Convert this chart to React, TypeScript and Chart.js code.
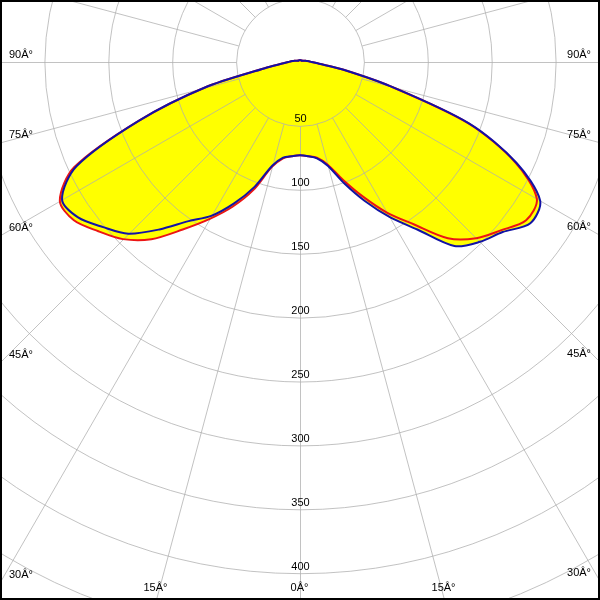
import React, { useEffect, useRef } from "react";
import { Chart, registerables } from "chart.js";

Chart.register(...registerables);

// Gamma angles (degrees from nadir) of each half-plane sample
const gammaDeg = [
  0, 5, 10, 15, 20, 25, 30, 35, 40, 45, 50, 55, 60, 65, 70, 75, 80, 85, 90,
  95, 100, 105, 110, 115, 120, 125, 130, 135, 140, 145, 150, 155, 160, 165, 170, 175, 180,
];

// Luminous intensity (cd/klm), C90-C270 plane (blue)
const blueLeft = [
  73, 74, 76, 84, 104, 122, 139, 152, 171, 190, 201, 212, 215, 193, 134, 77, 28, 14, 9,
  7, 5, 4, 3, 2.5, 2, 2, 1.5, 1.5, 1.5, 1.5, 1.5, 1.5, 1.5, 1.5, 1.5, 1.5, 1.5,
];
const blueRight = [
  73, 74, 76.5, 84, 101, 120, 140, 160, 188, 199, 207, 220, 217, 187, 141, 73, 34, 15, 9,
  7, 5, 4, 3, 2.5, 2, 2, 1.5, 1.5, 1.5, 1.5, 1.5, 1.5, 1.5, 1.5, 1.5, 1.5, 1.5,
];

// Luminous intensity (cd/klm), C0-C180 plane (red)
const redLeft = [
  73, 74, 76.5, 85, 106.5, 125, 142, 160, 181, 196, 206, 216, 217, 195, 134, 77, 28, 14, 9,
  7, 5, 4, 3, 2.5, 2, 2, 1.5, 1.5, 1.5, 1.5, 1.5, 1.5, 1.5, 1.5, 1.5, 1.5, 1.5,
];
const redRight = [
  73, 74, 76, 83, 98, 116, 136, 155, 180, 195, 205, 216, 214, 186, 140, 73, 34, 15, 9,
  7, 5, 4, 3, 2.5, 2, 2, 1.5, 1.5, 1.5, 1.5, 1.5, 1.5, 1.5, 1.5, 1.5, 1.5, 1.5,
];

// Angle labels shown around the frame
const angleLabelDeg = [0, 15, 30, 45, 60, 75, 90];
const degSuffix = "\u00C2\u00B0"; // as printed in the original: "Â°"

const SCALE_MAX = 500;
const STEP = 50;
const SPOKE_STEP = 15;

const BLUE = "#1212a6";
const RED = "#ec1414";
const YELLOW = "#ffff00";
const GRID = "rgba(174,174,174,0.75)";
const FONT = "11px 'Liberation Sans', Arial, sans-serif";

// layout
const CANVAS_SIZE = 1278;
const VIEW = 600;
const CANVAS_LEFT = -339;
const CANVAS_TOP = -577;

// full loop of angles: left half (0..180) then right half (185..355)
const thetaDeg = [
  ...gammaDeg,
  ...gammaDeg.slice(1, -1).reverse().map((g) => 360 - g),
];

function toLoop(left: number[], right: number[]) {
  return thetaDeg.map((t, i) => (t <= 180 ? left[i] : right[thetaDeg.length - i]));
}

const polarGrid = {
  id: "polarGrid",
  afterDatasetDraw(chart: any, args: any) {
    if (args.index !== 2) return;
    const scale = chart.scales.r;
    const ctx = chart.ctx as CanvasRenderingContext2D;
    const xc = scale.xCenter + 0.5;
    const yc = scale.yCenter + 0.5;
    ctx.save();
    ctx.strokeStyle = GRID;
    ctx.lineWidth = 1;
    const rings = scale.ticks.filter((t: any) => t.value > 0);
    for (const t of rings) {
      const r = scale.getDistanceFromCenterForValue(t.value);
      ctx.beginPath();
      ctx.arc(xc, yc, r, 0, Math.PI * 2);
      ctx.stroke();
    }
    const innerV = rings[0].value;
    thetaDeg.forEach((deg, i) => {
      if (deg % SPOKE_STEP !== 0) return;
      const a = scale.getPointPositionForValue(i, innerV);
      const b = scale.getPointPositionForValue(i, scale.max);
      ctx.beginPath();
      ctx.moveTo(a.x + 0.5, a.y + 0.5);
      ctx.lineTo(b.x + 0.5, b.y + 0.5);
      ctx.stroke();
    });
    ctx.restore();
  },
  afterDraw(chart: any) {
    const scale = chart.scales.r;
    const ctx = chart.ctx as CanvasRenderingContext2D;
    const xc = scale.xCenter + 0.5;
    const yc = scale.yCenter + 0.5;
    ctx.save();
    ctx.fillStyle = "#000";
    ctx.font = FONT;
    ctx.textAlign = "center";
    ctx.textBaseline = "alphabetic";
    for (const t of scale.ticks) {
      if (t.value <= 0) continue;
      const p = scale.getPointPositionForValue(0, t.value);
      ctx.fillText(String(t.label), p.x + 0.5, p.y - 3.5);
    }
    // frame labels
    const vLeft = -CANVAS_LEFT;
    const vTop = -CANVAS_TOP;
    const vRight = vLeft + VIEW;
    const vBottom = vTop + VIEW;
    ctx.textBaseline = "middle";
    const drawFor = (idx: number, deg: number) => {
      const p = scale.getPointPositionForValue(idx, 100);
      const dx = p.x + 0.5 - xc;
      const dy = p.y + 0.5 - yc;
      const tSide = dx < 0 ? (vLeft - xc) / dx : dx > 0 ? (vRight - xc) / dx : Infinity;
      const tBottom = dy > 0 ? (vBottom - yc) / dy : Infinity;
      const text = `${deg}${degSuffix}`;
      if (tSide < tBottom) {
        const y = yc + tSide * dy - 8;
        if (dx < 0) {
          ctx.textAlign = "left";
          ctx.fillText(text, vLeft + 9, y);
        } else {
          ctx.textAlign = "right";
          ctx.fillText(text, vRight - 9, y);
        }
      } else {
        ctx.textAlign = "center";
        ctx.fillText(text, xc + tBottom * dx - 1, vBottom - 12);
      }
    };
    for (const deg of angleLabelDeg) {
      const li = thetaDeg.indexOf(deg);
      drawFor(li, deg);
      if (deg !== 0) {
        const ri = thetaDeg.indexOf(360 - deg);
        drawFor(ri, deg);
      }
    }
    ctx.restore();
  },
};

export default function App() {
  const ref = useRef<HTMLCanvasElement>(null);
  useEffect(() => {
    const canvas = ref.current;
    if (!canvas) return;
    const blueData = toLoop(blueLeft, blueRight);
    const redData = toLoop(redLeft, redRight);
    const chart = new Chart(canvas, {
      type: "radar",
      data: {
        labels: thetaDeg.map(String),
        datasets: [
          {
            label: "C90 - C270",
            data: blueData,
            borderColor: BLUE,
            borderWidth: 2,
            backgroundColor: "rgba(0,0,0,0)",
            fill: false,
            tension: 0.3,
            pointRadius: 0,
            order: 0,
          },
          {
            label: "C0 - C180",
            data: redData,
            borderColor: RED,
            borderWidth: 2,
            backgroundColor: "rgba(0,0,0,0)",
            fill: false,
            tension: 0.3,
            pointRadius: 0,
            order: 1,
          },
          {
            label: "fill C90",
            data: blueData,
            borderColor: "rgba(0,0,0,0)",
            borderWidth: 0,
            backgroundColor: YELLOW,
            fill: "origin",
            tension: 0.3,
            pointRadius: 0,
            order: 2,
          },
          {
            label: "fill C0",
            data: redData,
            borderColor: "rgba(0,0,0,0)",
            borderWidth: 0,
            backgroundColor: YELLOW,
            fill: "origin",
            tension: 0.3,
            pointRadius: 0,
            order: 3,
          },
        ] as any,
      },
      options: {
        animation: false,
        responsive: false,
        layout: { padding: 0 },
        startAngle: 180,
        elements: { point: { radius: 0 } },
        plugins: {
          legend: { display: false },
          tooltip: { enabled: false },
        },
        scales: {
          r: {
            min: 0,
            max: SCALE_MAX,
            startAngle: 180,
            ticks: { stepSize: STEP, display: false },
            grid: { display: false, circular: true },
            angleLines: { display: false },
            pointLabels: { display: false },
          },
        },
      } as any,
      plugins: [polarGrid],
    });
    return () => chart.destroy();
  }, []);

  return (
    <div
      style={{
        position: "fixed",
        left: 0,
        top: 0,
        width: VIEW,
        height: VIEW,
        overflow: "hidden",
        background: "#fff",
      }}
    >
      <canvas
        ref={ref}
        width={CANVAS_SIZE}
        height={CANVAS_SIZE}
        style={{ position: "absolute", left: CANVAS_LEFT, top: CANVAS_TOP }}
      />
      <div
        style={{
          position: "absolute",
          left: 0,
          top: 0,
          width: VIEW,
          height: VIEW,
          boxSizing: "border-box",
          border: "2px solid #000",
          pointerEvents: "none",
        }}
      />
    </div>
  );
}
